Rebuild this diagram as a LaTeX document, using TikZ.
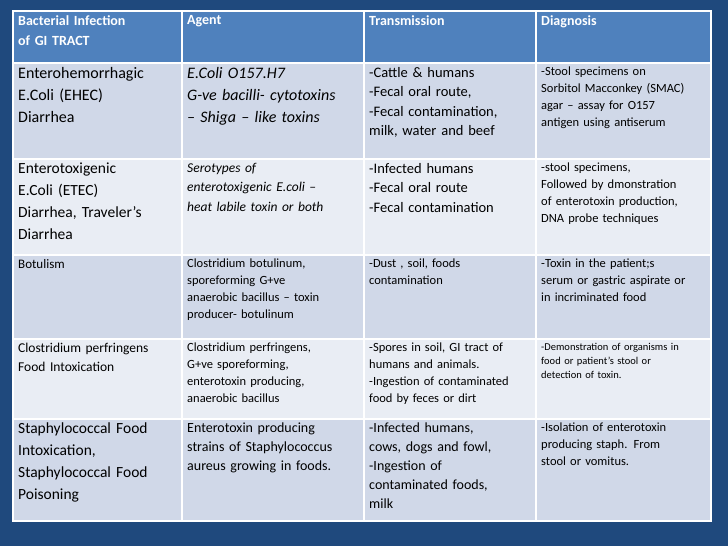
\documentclass[tikz,border=0pt]{standalone}
\usepackage{fontspec}
\setmainfont{Carlito}
\definecolor{bg}{HTML}{1F497D}
\definecolor{hd}{HTML}{4F81BD}
\definecolor{dk}{HTML}{D0D8E8}
\definecolor{lt}{HTML}{E9EDF4}
\tikzset{cellbox/.style={draw=white,line width=1.5pt,inner sep=0pt,anchor=north west},
 txt/.style={anchor=north west,inner sep=0pt,align=left,text=black}}
\newcommand{\fs}[2]{\fontsize{#1}{#2}\selectfont}
\newcommand{\mycell}[8]{%
 \node[cellbox,fill=#6,minimum width=#4-#2,minimum height=#5-#3] (#1) at (#2,#3) {};
 \node[txt,text width=#4-#2-11,#7] (#1t) at (#2+6,#3+5) {#8};}
\begin{document}
\begin{tikzpicture}[x=1pt,y=-1pt]
\fill[bg] (0,0) rectangle (728,546);
\useasboundingbox (0,0) rectangle (728,546);
% columns 12,181,363,535,710 ; rows 10,62,158,254,338,418,520
\mycell{h1}{12}{10}{181}{62}{hd}{text=white,font=\fs{14}{20}\bfseries}{Bacterial Infection\\of GI TRACT}
\mycell{h2}{181}{10}{363}{62}{hd}{text=white,font=\fs{14}{20}\bfseries}{Agent}
\mycell{h3}{363}{10}{535}{62}{hd}{text=white,font=\fs{14}{20}\bfseries}{Transmission}
\mycell{h4}{535}{10}{710}{62}{hd}{text=white,font=\fs{14}{20}\bfseries}{Diagnosis}
%
\mycell{a1}{12}{62}{181}{158}{dk}{font=\fs{16}{22}}{Enterohemorrhagic\\E.Coli (EHEC)\\Diarrhea}
\mycell{a2}{181}{62}{363}{158}{dk}{font=\fs{16}{22}\itshape}{E.Coli O157.H7\\G-ve bacilli- cytotoxins\\– Shiga – like toxins}
\mycell{a3}{363}{62}{535}{158}{dk}{font=\fs{14.5}{19.5}}{-Cattle \& humans\\-Fecal oral route,\\-Fecal contamination,\\milk, water and beef}
\mycell{a4}{535}{62}{710}{158}{dk}{font=\fs{12.5}{17}}{-Stool specimens on\\Sorbitol Macconkey (SMAC)\\agar – assay for O157\\antigen using antiserum}
%
\mycell{b1}{12}{158}{181}{254}{lt}{font=\fs{15.5}{22}}{Enterotoxigenic\\E.Coli (ETEC)\\Diarrhea, Traveler’s\\Diarrhea}
\mycell{b2}{181}{158}{363}{254}{lt}{font=\fs{13.5}{19.5}\itshape}{Serotypes of\\enterotoxigenic E.coli –\\heat labile toxin or both}
\mycell{b3}{363}{158}{535}{254}{lt}{font=\fs{14.5}{19.5}}{-Infected humans\\-Fecal oral route\\-Fecal contamination}
\mycell{b4}{535}{158}{710}{254}{lt}{font=\fs{12.5}{17}}{-stool specimens,\\Followed by dmonstration\\of enterotoxin production,\\DNA probe techniques}
%
\mycell{c1}{12}{254}{181}{338}{dk}{font=\fs{13}{17}}{Botulism}
\mycell{c2}{181}{254}{363}{338}{dk}{font=\fs{12.5}{17}}{Clostridium botulinum,\\sporeforming G+ve\\anaerobic bacillus – toxin\\producer- botulinum}
\mycell{c3}{363}{254}{535}{338}{dk}{font=\fs{12.5}{17}}{-Dust , soil, foods\\contamination}
\mycell{c4}{535}{254}{710}{338}{dk}{font=\fs{12.5}{17}}{-Toxin in the patient;s\\serum or gastric aspirate or\\in incriminated food}
%
\mycell{d1}{12}{338}{181}{418}{lt}{font=\fs{13.5}{19}}{Clostridium perfringens\\Food Intoxication}
\mycell{d2}{181}{338}{363}{418}{lt}{font=\fs{12.5}{17}}{Clostridium perfringens,\\G+ve sporeforming,\\enterotoxin producing,\\anaerobic bacillus}
\mycell{d3}{363}{338}{535}{418}{lt}{font=\fs{12.5}{17}}{-Spores in soil, GI tract of\\humans and animals.\\-Ingestion of contaminated\\food by feces or dirt}
\mycell{d4}{535}{338}{710}{418}{lt}{font=\fs{10.5}{14}}{-Demonstration of organisms in\\food or patient’s stool or\\detection of toxin.}
%
\mycell{e1}{12}{418}{181}{520}{dk}{font=\fs{15.5}{22}}{Staphylococcal Food\\Intoxication,\\Staphylococcal Food\\Poisoning}
\mycell{e2}{181}{418}{363}{520}{dk}{font=\fs{14}{19}}{Enterotoxin producing\\strains of Staphylococcus\\aureus growing in foods.}
\mycell{e3}{363}{418}{535}{520}{dk}{font=\fs{14}{19}}{-Infected humans,\\cows, dogs and fowl,\\-Ingestion of\\contaminated foods,\\milk}
\mycell{e4}{535}{418}{710}{520}{dk}{font=\fs{12.5}{17}}{-Isolation of enterotoxin\\producing staph. From\\stool or vomitus.}
\end{tikzpicture}
\end{document}
